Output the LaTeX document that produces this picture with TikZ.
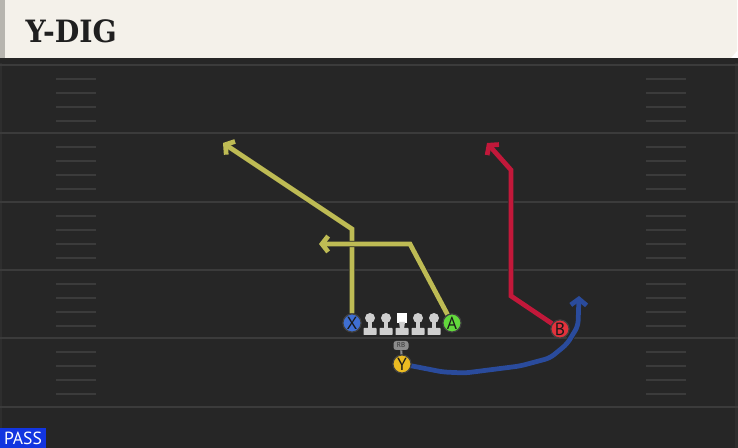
\documentclass[tikz,border=0pt]{standalone}
\usepackage{fontspec}
\setmainfont{DejaVu Serif}
\setsansfont{PT Sans}
\usetikzlibrary{positioning}
\usetikzlibrary{backgrounds}
\usetikzlibrary{arrows.meta}
\definecolor{field}{HTML}{262626}
\definecolor{yardline}{HTML}{3B3B3B}
\definecolor{header}{HTML}{F4F1EA}
\definecolor{olive}{HTML}{BEBB54}
\definecolor{crimson}{HTML}{C2183A}
\definecolor{navy}{HTML}{2A4B9C}
\definecolor{passblue}{HTML}{1235E0}
\definecolor{xblue}{HTML}{3F6FD2}
\definecolor{agreen}{HTML}{62D83C}
\definecolor{bred}{HTML}{E2323C}
\definecolor{yyellow}{HTML}{EBBB22}
\definecolor{lineman}{HTML}{CFCFCF}
\begin{document}
\begin{tikzpicture}[x=0.02cm,y=-0.02cm,
         route/.style={-{Straight Barb[length=3.5pt,width=9pt]},line width=2.7pt,miter limit=4,
            preaction={draw=black!85,line width=3.5pt}},
         player/.style={circle,draw=black!75,line width=0.6pt,minimum size=0.36cm,inner sep=0pt,
            font=\sffamily\fontsize{10}{10}\selectfont,text=black!90},
         hash/.style={yardline,line width=0.8pt},
      every node/.append style={align=center}]
      \useasboundingbox (0,0) rectangle (738,448);
      %
         \begin{pgfonlayer}{background}
            % field
            \fill[field] (0,58) rectangle (738,448);
            \fill[black!85] (0,58) rectangle (738,63);
            \fill[black!75!white!30!field] (0,63) rectangle (2,448);
            \fill[black!75!white!30!field] (735,63) rectangle (738,448);
            % yard lines and hash marks
            \foreach \y in {65,133,202,270,338,407}
               \draw[yardline,line width=1.1pt] (0,\y) -- (738,\y);
            \foreach \y in {65,133,202,270,338}
               \foreach \d in {14,28,42,56} {
                  \draw[hash] (56,\y+\d) -- (96,\y+\d);
                  \draw[hash] (646,\y+\d) -- (686,\y+\d);
               }
            % header
            \fill[header] (0,0) -- (737,0) -- (737,51) -- (731,58) -- (0,58) -- cycle;
            \fill[black!25!header] (0,0) rectangle (5,58);
         \end{pgfonlayer}
         \node (title) at (20,43) [anchor=base west,font=\bfseries\fontsize{17.5}{17.5}\selectfont,text=black!88,xscale=0.92] {Y-DIG};
         \node (pass) at (23,438) [fill=passblue,minimum width=0.92cm,minimum height=0.4cm,inner sep=0pt,
            font=\sffamily\fontsize{10}{10}\selectfont,text=white] {PASS};
      %
         \coordinate (xbrk) at (352,229);
         \coordinate (xend) at (223,143);
         \coordinate (abrk) at (410,244);
         \coordinate (aend) at (319,244);
         \coordinate (bbrk) at (511,296);
         \coordinate (bup) at (511,170);
         \coordinate (bend) at (487,143);
         \coordinate (yend) at (579,296);
      %
         \node (xr) at (352,323) [player,fill=xblue] {X};
         \node (ar) at (452,323) [player,fill=agreen] {A};
         \node (br) at (560,329) [player,fill=bred] {B};
         \node (yr) at (402,364) [player,fill=yyellow] {Y};
      %% routes
         \draw[route,olive](xr)--(xbrk)--(xend);
         \draw[route,olive](ar)--(abrk)--(aend);
         \draw[route,crimson](br)--(bbrk)--(bup)--(bend);
         \draw[route,navy,rounded corners=3pt](yr)--(443,372)--(465,373)--(520,366)--(550,358)--(567,344)--(578,326)--(yend);
      %% players on top
         \node at (xr) [player,fill=xblue] {X};
         \node at (ar) [player,fill=agreen] {A};
         \node at (br) [player,fill=bred] {B};
      %% line
         \foreach \x/\n in {370/lt,386/lg,418/rg,434/rt} {
            \fill[lineman] (\x-2,320) rectangle (\x+2,330);
            \fill[lineman,rounded corners=0.4pt] (\x-6.5,328) rectangle (\x+6.5,335);
            \node (\n) at (\x,318) [circle,fill=lineman,minimum size=0.2cm,inner sep=0pt] {};
         }
         \node (ctr) at (402,318) [rectangle,fill=white,minimum width=0.19cm,minimum height=0.21cm,inner sep=0pt] {};
         \fill[lineman] (399,322) -- (405,322) -- (404,329) -- (400,329) -- cycle;
         \fill[lineman,rounded corners=0.4pt] (395.5,328) rectangle (408.5,335);
      %
         \node (rb) at (401,345.5) [fill=black!45,rounded corners=1.5pt,minimum width=0.3cm,minimum height=0.18cm,
            inner sep=0pt,font=\sffamily\fontsize{4}{4}\selectfont,text=black!80] {RB};
         \draw[black!45,line width=1.2pt](rb)--(yr);
         \node at (yr) [player,fill=yyellow] {Y};
   \end{tikzpicture}
\end{document}
